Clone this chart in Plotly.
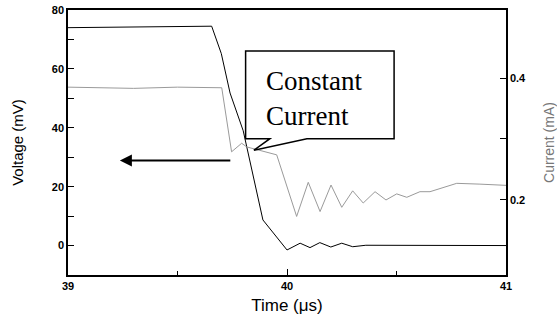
import plotly.graph_objects as go

# Voltage (mV) vs time (µs)
v_time = [39.0, 39.3, 39.656, 39.70, 39.74, 39.80, 39.89, 40.0, 40.06, 40.105, 40.15, 40.20, 40.25, 40.30, 40.36, 41.0]
v_vals = [74.0, 74.2, 74.5, 65.2, 51.8, 39.0, 8.7, -1.5, 0.8, -0.7, 1.0, -0.5, 0.8, -0.4, 0.1, 0.0]

# Current (mA) vs time (µs)
i_time = [39.0, 39.3, 39.5, 39.702, 39.747, 39.793, 39.816, 39.953, 40.044, 40.097, 40.151, 40.201,
          40.250, 40.300, 40.348, 40.402, 40.452, 40.501, 40.547, 40.607, 40.653, 40.699, 40.775,
          40.881, 40.973, 41.0]
i_vals = [0.385, 0.383, 0.385, 0.384, 0.279, 0.293, 0.287, 0.274, 0.173, 0.229, 0.181, 0.2245,
          0.188, 0.215, 0.195, 0.2136, 0.200, 0.210, 0.2044, 0.2136, 0.2136, 0.219, 0.2273,
          0.226, 0.2245, 0.224]

x_ticks = [39, 40, 41]
y_ticks = [0, 20, 40, 60, 80]
y2_ticks = [0.2, 0.4]

fig = go.Figure()
fig.add_trace(go.Scatter(x=i_time, y=i_vals, yaxis="y2", mode="lines",
                         line=dict(color="#9a9a9a", width=1), showlegend=False))
fig.add_trace(go.Scatter(x=v_time, y=v_vals, mode="lines",
                         line=dict(color="black", width=1), showlegend=False))

tickfont = dict(family="Arial", size=11, color="black", weight="bold")

fig.update_layout(
    width=557, height=322,
    margin=dict(l=68, r=51, t=10, b=47),
    plot_bgcolor="white", paper_bgcolor="white",
    xaxis=dict(range=[39, 41], tickvals=x_ticks, ticktext=[str(t) for t in x_ticks],
               ticks="inside", ticklen=6, tickcolor="black", automargin=False,
               minor=dict(dtick=0.5, ticks="inside", ticklen=4, tickcolor="black"),
               showline=True, linecolor="black", linewidth=1.5, mirror=True,
               showgrid=False, zeroline=False, tickfont=tickfont,
               title=dict(text="Time (μs)", font=dict(family="Arial", size=17, color="black"), standoff=8)),
    yaxis=dict(range=[-10, 80], tickvals=y_ticks, ticks="inside", ticklen=6, tickcolor="black",
               automargin=False,
               minor=dict(tickvals=[10, 30, 50, 70], ticks="inside", ticklen=6, tickcolor="black"),
               showline=True, linecolor="black", linewidth=1.5, mirror=True,
               showgrid=False, zeroline=False, tickfont=tickfont,
               title=dict(text="Voltage (mV)", font=dict(family="Arial", size=15, color="black"), standoff=25)),
    yaxis2=dict(range=[0.077, 0.5115], overlaying="y", side="right", tickvals=y2_ticks,
                ticktext=["0.2", "0.4"], ticks="inside", ticklen=6, tickcolor="black",
                automargin=False,
                minor=dict(tickvals=[0.3], ticks="inside", ticklen=6, tickcolor="black"),
                showline=True, linecolor="black", linewidth=1.5,
                showgrid=False, zeroline=False, tickfont=tickfont,
                title=dict(text="Current (mA)", font=dict(family="Arial", size=14, color="#777777"), standoff=20)),
)

# Callout box
fig.add_shape(type="path", xref="x", yref="y",
              path="M 39.811,66.1 L 40.489,66.1 L 40.489,36.3 L 40.091,36.3 L 39.849,32.4 L 39.922,36.3 L 39.811,36.3 Z",
              fillcolor="white", line=dict(color="black", width=1.5), layer="above")
fig.add_annotation(x=39.895, y=50.0, xref="x", yref="y", text="Constant<br>Current",
                   showarrow=False, xanchor="left", yanchor="middle", align="left",
                   font=dict(family="Liberation Serif, Times New Roman", size=27, color="black"))
# Arrow pointing to voltage axis
fig.add_annotation(x=39.237, y=28.9, ax=39.748, ay=28.9, xref="x", yref="y", axref="x", ayref="y",
                   text="", showarrow=True, arrowhead=2, arrowsize=1.2, arrowwidth=2, arrowcolor="black",
                   standoff=0)

fig.write_html("out.html")
